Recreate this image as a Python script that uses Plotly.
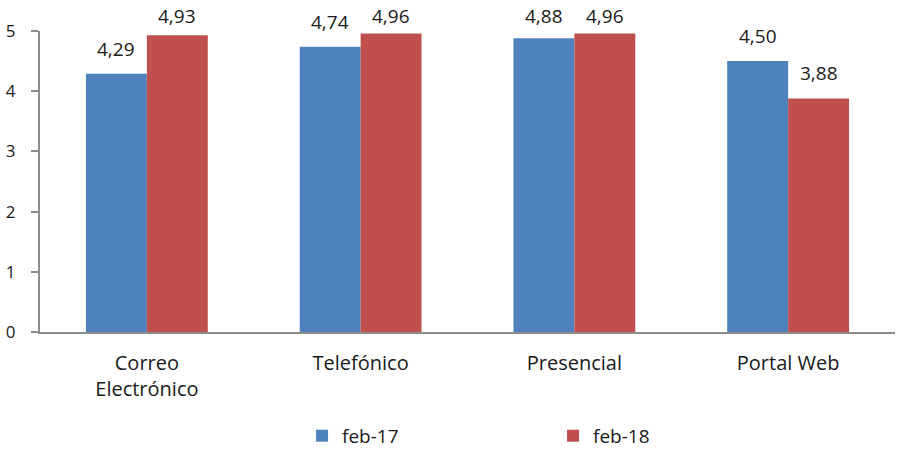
import plotly.graph_objects as go

# Satisfaction scores by contact channel (scale 0-5)
categories = ["Correo<br>Electrónico", "Telefónico", "Presencial", "Portal Web"]
series_names = ["feb-17", "feb-18"]
values_feb17 = [4.29, 4.74, 4.88, 4.50]
values_feb18 = [4.93, 4.96, 4.96, 3.88]
y_ticks = [0, 1, 2, 3, 4, 5]

colors = ["#4F81BD", "#C0504D"]
font_family = "Open Sans, Noto Sans, sans-serif"
text_color = "#1a1a1a"
axis_color = "#8c8c8c"

Y_MAX = 5
PLOT_H = 450 - 31 - 118          # plot area height in px
PX_PER_UNIT = PLOT_H / Y_MAX

fig = go.Figure()
for name, vals, col in zip(series_names, [values_feb17, values_feb18], colors):
    fig.add_trace(go.Bar(
        x=categories, y=vals, name=name,
        marker=dict(color=col, line=dict(width=0)),
    ))

# Value labels above each bar, offset to the bar's half of the group;
# labels near the top are pulled down so they stay inside the figure.
bar_px = 61
for vals, shift in zip([values_feb17, values_feb18], [-bar_px / 2, bar_px / 2]):
    for cat, v in zip(categories, vals):
        lift = min(10, (Y_MAX - v) * PX_PER_UNIT)
        fig.add_annotation(
            x=cat, y=v, text=f"{v:.2f}".replace(".", ","),
            showarrow=False, xshift=shift, yshift=lift, yanchor="bottom",
            font=dict(family=font_family, size=19, color=text_color),
        )

fig.update_layout(
    width=903, height=450,
    margin=dict(l=40, r=8, t=31, b=118, autoexpand=False),
    paper_bgcolor="white", plot_bgcolor="white",
    barmode="group", bargap=0.43, bargroupgap=0,
    separators=",.",
    font=dict(family=font_family, size=19, color=text_color),
    showlegend=True,
    legend=dict(
        orientation="h", x=0.3065, xanchor="left", y=-0.282, yanchor="top",
        entrywidth=206, entrywidthmode="pixels",
        font=dict(family=font_family, size=19, color=text_color),
        itemclick=False,
    ),
    xaxis=dict(
        showline=True, linecolor=axis_color, linewidth=2,
        ticks="", showgrid=False, tickfont=dict(size=20),
        ticklabelstandoff=12, automargin=False,
    ),
    yaxis=dict(
        range=[0, Y_MAX], tickvals=y_ticks, showline=True, linecolor=axis_color,
        linewidth=2, ticks="outside", ticklen=7, tickcolor=axis_color,
        tickwidth=2, showgrid=False, zeroline=False,
        tickfont=dict(size=17), ticklabelstandoff=12, automargin=False,
    ),
)

fig.write_html("out.html")
